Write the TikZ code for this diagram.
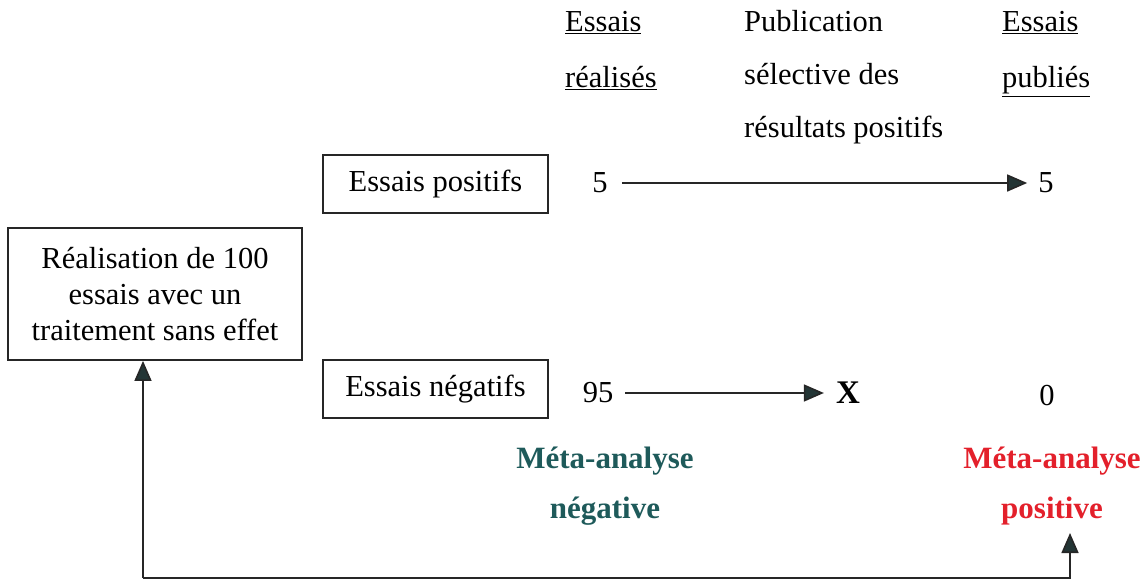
\documentclass[tikz,border=0pt]{standalone}
\usepackage{fontspec}
\setmainfont{Liberation Serif}
\usetikzlibrary{arrows.meta}
\definecolor{tealc}{HTML}{1E5A5A}
\definecolor{redc}{HTML}{E3202B}
\definecolor{headc}{HTML}{233535}
\begin{document}
\begin{tikzpicture}[x=1pt,y=-1pt,
  every node/.style={font=\fontsize{30.5}{36}\selectfont},
  box/.style={draw=black!85,line width=1.8pt,inner sep=0pt,align=center},
  txt/.style={inner sep=0pt,anchor=base west},
  num/.style={inner sep=0pt},
  meta/.style={inner sep=0pt,anchor=base,font=\fontsize{31}{36}\selectfont\bfseries},
  arr/.style={draw=black!85,line width=1.6pt,-{Triangle[length=20pt,width=17pt,fill=headc]}}]
\useasboundingbox (0,0) rectangle (1143,583);
% boxes
\node[box,minimum width=294pt,minimum height=132pt] (main) at (155,294)
  {Réalisation de 100\\essais avec un\\traitement sans effet};
\node[box,minimum width=225pt,minimum height=58pt] (pos) at (435.5,184) {Essais positifs};
\node[box,minimum width=225pt,minimum height=58pt] (neg) at (435.5,389) {Essais négatifs};
% headers
\node[txt] (h1) at (565,32) {\underline{Essais}};
\node[txt] (h2) at (565,88) {\underline{réalisés}};
\node[txt] (p1) at (744,32) {Publication};
\node[txt] (p2) at (744,85) {sélective des};
\node[txt] (p3) at (744,138) {résultats positifs};
\node[txt] (h3) at (1002,32) {\underline{Essais}};
\node[txt] (h4) at (1002,88) {\underline{publiés}};
% numbers
\node[num] (n5a) at (600,183) {5};
\node[num] (n5b) at (1046,183) {5};
\node[num] (n95) at (598,393) {95};
\node[num,font=\fontsize{33}{36}\selectfont\bfseries] (nx) at (848,393) {X};
\node[num] (n0) at (1047,396) {0};
% meta labels
\node[meta,text=tealc] (mn1) at (605,468) {Méta-analyse};
\node[meta,text=tealc] (mn2) at (605,518) {négative};
\node[meta,text=redc] (mp1) at (1052,468) {Méta-analyse};
\node[meta,text=redc] (mp2) at (1052,518) {positive};
% arrows
\draw[arr] ([xshift=14pt]n5a.east) -- ([xshift=-11pt]n5b.west);
\draw[arr] ([xshift=12pt]n95.east) -- ([xshift=-12pt]nx.west);
\coordinate (c1) at (143,578);
\coordinate (c2) at (1070,578);
\coordinate (c3) at (1070,533);
\draw[arr] (c1) -- (c2) -- (c3);
\draw[arr] (c1) -- (main.south -| c1);
\end{tikzpicture}
\end{document}
